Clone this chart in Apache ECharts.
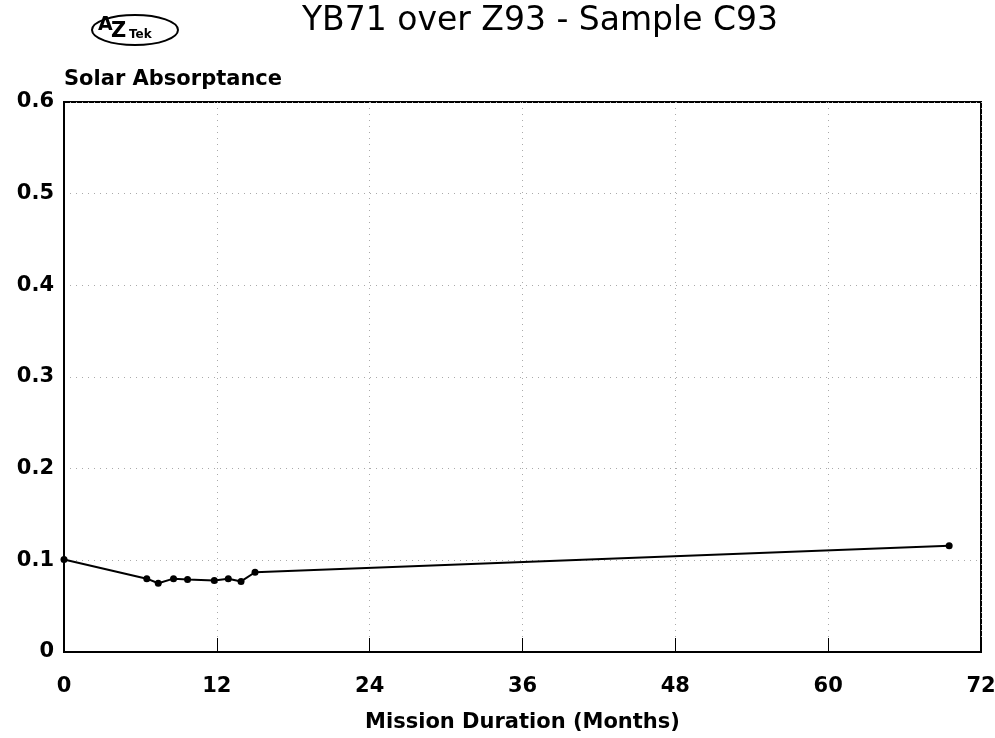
<!DOCTYPE html>
<html>
<head>
<meta charset="utf-8">
<title>YB71 over Z93 - Sample C93</title>
<script src="https://cdn.jsdelivr.net/npm/echarts@6/dist/echarts.min.js"></script>
<style>
  html, body { margin: 0; padding: 0; background: #fff; }
  #chart { width: 995px; height: 738px; }
</style>
</head>
<body>
<div id="chart"></div>
<script>
// mission duration (months) and solar absorptance
var months = [0, 6.5, 7.4, 8.6, 9.7, 11.8, 12.9, 13.9, 15, 69.5]
var absorptance = [0.101, 0.080, 0.075, 0.080, 0.079, 0.078, 0.080, 0.077, 0.087, 0.116]
var xTicks = [0, 12, 24, 36, 48, 60, 72]
var yTicks = [0, 0.1, 0.2, 0.3, 0.4, 0.5, 0.6]

var font = '"DejaVu Sans", Arial, sans-serif'
var mychart = echarts.init(document.getElementById('chart'))

mychart.setOption({
  animation: false,
  title: {
    text: 'YB71 over Z93 - Sample C93',
    left: 535,
    top: 0,
    textAlign: 'center',
    textStyle: { fontFamily: font, fontSize: 33, fontWeight: 'normal', color: '#000' }
  },
  graphic: [
    {
      type: 'ellipse',
      shape: { cx: 135, cy: 30, rx: 43, ry: 15 },
      style: { fill: 'none', stroke: '#000', lineWidth: 2 }
    },
    {
      type: 'text',
      left: 98, top: 16,
      style: { text: 'A', font: 'bold 19px ' + font, fill: '#000' }
    },
    {
      type: 'text',
      left: 111, top: 21,
      style: { text: 'Z', font: 'bold 21px ' + font, fill: '#000' }
    },
    {
      type: 'text',
      left: 129, top: 29,
      style: { text: 'Tek', font: 'bold 12px ' + font, fill: '#000' }
    }
  ],
  grid: {
    left: 64,
    right: 14,
    top: 102,
    bottom: 86,
    outerBoundsMode: 'none',
    show: true,
    borderColor: '#000',
    borderWidth: 2
  },
  xAxis: {
    type: 'value',
    min: 0,
    max: 72,
    interval: 12,
    name: 'Mission Duration (Months)',
    nameLocation: 'middle',
    nameGap: 60,
    nameTextStyle: { fontFamily: font, fontSize: 21, fontWeight: 'bold', color: '#000' },
    axisLine: { show: true, lineStyle: { color: '#000', width: 2 } },
    axisTick: { show: true, inside: true, length: 14, lineStyle: { color: '#000', width: 1 } },
    axisLabel: {
      margin: 24,
      fontFamily: font, fontSize: 21, fontWeight: 'bold', color: '#000',
      formatter: function (v) { return xTicks.indexOf(v) > -1 ? String(v) : '' }
    },
    splitLine: { show: true, lineStyle: { color: '#aaa', type: [1, 5], width: 1 } }
  },
  yAxis: {
    type: 'value',
    min: 0,
    max: 0.6,
    interval: 0.1,
    name: 'Solar Absorptance',
    nameLocation: 'end',
    nameGap: 12,
    nameTextStyle: {
      fontFamily: font, fontSize: 21, fontWeight: 'bold', color: '#000',
      align: 'left'
    },
    axisLine: { show: true, lineStyle: { color: '#000', width: 2 } },
    axisTick: { show: false },
    axisLabel: {
      margin: 10,
      fontFamily: font, fontSize: 21, fontWeight: 'bold', color: '#000',
      formatter: function (v) {
        var r = Math.round(v * 10) / 10
        return yTicks.indexOf(r) < 0 ? '' : (r === 0 ? '0' : r.toFixed(1))
      }
    },
    splitLine: { show: true, lineStyle: { color: '#aaa', type: [1, 5], width: 1 } }
  },
  series: [
    {
      type: 'line',
      data: months.map(function (m, i) { return [m, absorptance[i]] }),
      symbol: 'circle',
      symbolSize: 7,
      itemStyle: { color: '#000' },
      lineStyle: { color: '#000', width: 2 }
    }
  ]
})
</script>
</body>
</html>
